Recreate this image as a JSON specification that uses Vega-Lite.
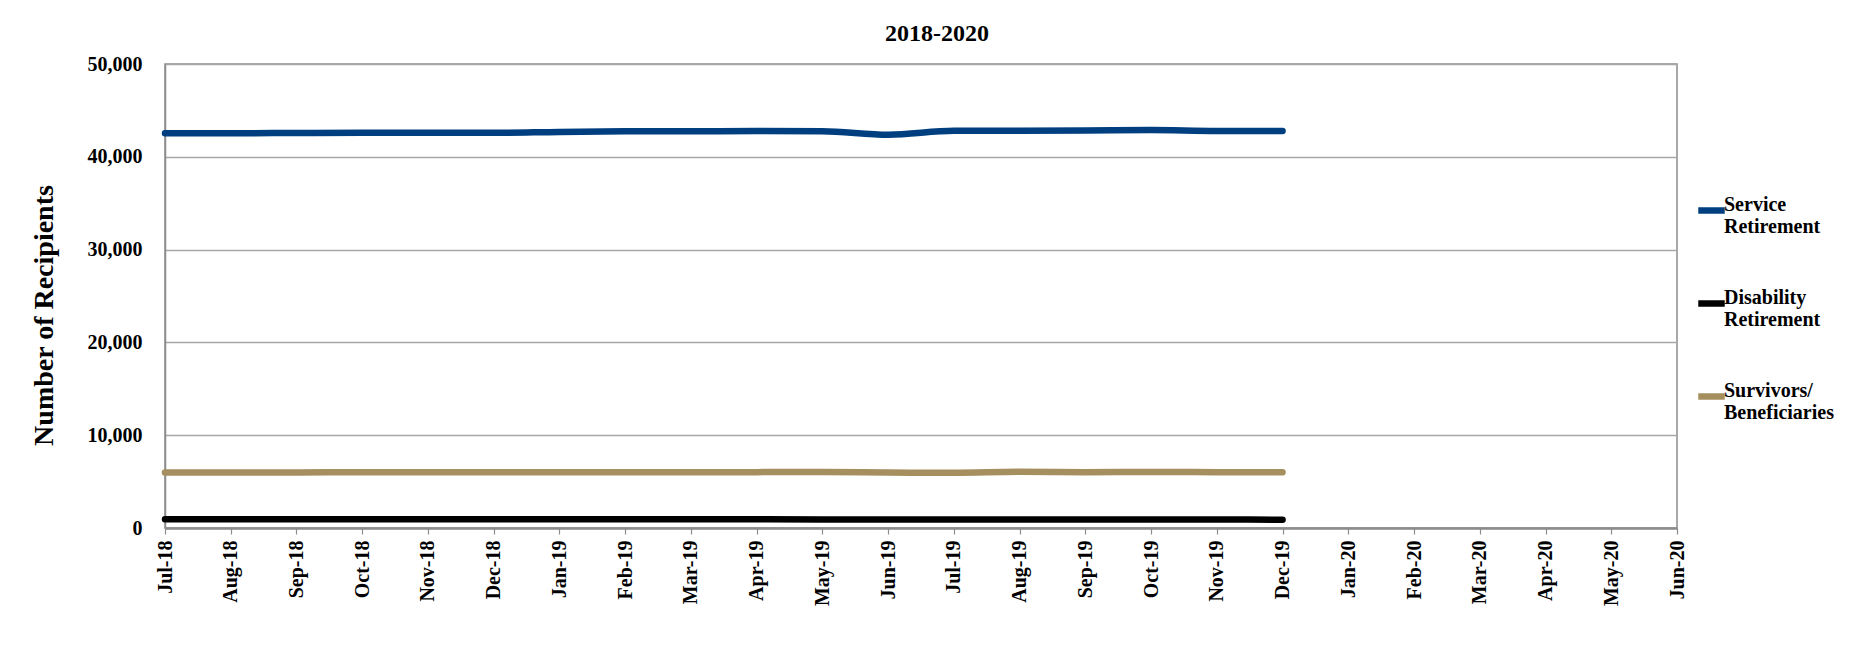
{
  "$schema": "https://vega.github.io/schema/vega-lite/v6.json",
  "width": 1512,
  "height": 464,
  "autosize": {"type": "none"},
  "padding": {"left": 165, "top": 64, "right": 194, "bottom": 121},
  "background": "#ffffff",
  "title": {
    "text": "2018-2020",
    "font": "Liberation Serif",
    "fontSize": 24,
    "fontWeight": "bold",
    "color": "#000000",
    "anchor": "middle",
    "frame": "group",
    "baseline": "alphabetic",
    "offset": 22,
    "dx": 16,
    "dy": 33
  },
  "config": {
    "view": {"stroke": "#8c8c8c", "strokeWidth": 1.5},
    "axis": {
      "labelFont": "Liberation Serif",
      "labelFontWeight": "bold",
      "labelColor": "#000000",
      "titleFont": "Liberation Serif",
      "titleColor": "#000000"
    }
  },
  "data": {
    "values": [
      {"month": "Jul-18", "series": "Service Retirement", "recipients": 42530},
      {"month": "Aug-18", "series": "Service Retirement", "recipients": 42540},
      {"month": "Sep-18", "series": "Service Retirement", "recipients": 42560},
      {"month": "Oct-18", "series": "Service Retirement", "recipients": 42580},
      {"month": "Nov-18", "series": "Service Retirement", "recipients": 42590},
      {"month": "Dec-18", "series": "Service Retirement", "recipients": 42580},
      {"month": "Jan-19", "series": "Service Retirement", "recipients": 42680},
      {"month": "Feb-19", "series": "Service Retirement", "recipients": 42740},
      {"month": "Mar-19", "series": "Service Retirement", "recipients": 42750},
      {"month": "Apr-19", "series": "Service Retirement", "recipients": 42780},
      {"month": "May-19", "series": "Service Retirement", "recipients": 42760},
      {"month": "Jun-19", "series": "Service Retirement", "recipients": 42380},
      {"month": "Jul-19", "series": "Service Retirement", "recipients": 42800},
      {"month": "Aug-19", "series": "Service Retirement", "recipients": 42810},
      {"month": "Sep-19", "series": "Service Retirement", "recipients": 42830},
      {"month": "Oct-19", "series": "Service Retirement", "recipients": 42880},
      {"month": "Nov-19", "series": "Service Retirement", "recipients": 42790},
      {"month": "Dec-19", "series": "Service Retirement", "recipients": 42790},

      {"month": "Jul-18", "series": "Disability Retirement", "recipients": 950},
      {"month": "Aug-18", "series": "Disability Retirement", "recipients": 950},
      {"month": "Sep-18", "series": "Disability Retirement", "recipients": 945},
      {"month": "Oct-18", "series": "Disability Retirement", "recipients": 945},
      {"month": "Nov-18", "series": "Disability Retirement", "recipients": 940},
      {"month": "Dec-18", "series": "Disability Retirement", "recipients": 940},
      {"month": "Jan-19", "series": "Disability Retirement", "recipients": 935},
      {"month": "Feb-19", "series": "Disability Retirement", "recipients": 935},
      {"month": "Mar-19", "series": "Disability Retirement", "recipients": 930},
      {"month": "Apr-19", "series": "Disability Retirement", "recipients": 930},
      {"month": "May-19", "series": "Disability Retirement", "recipients": 925},
      {"month": "Jun-19", "series": "Disability Retirement", "recipients": 920},
      {"month": "Jul-19", "series": "Disability Retirement", "recipients": 920},
      {"month": "Aug-19", "series": "Disability Retirement", "recipients": 915},
      {"month": "Sep-19", "series": "Disability Retirement", "recipients": 915},
      {"month": "Oct-19", "series": "Disability Retirement", "recipients": 910},
      {"month": "Nov-19", "series": "Disability Retirement", "recipients": 905},
      {"month": "Dec-19", "series": "Disability Retirement", "recipients": 900},

      {"month": "Jul-18", "series": "Survivors/ Beneficiaries", "recipients": 5980},
      {"month": "Aug-18", "series": "Survivors/ Beneficiaries", "recipients": 5990},
      {"month": "Sep-18", "series": "Survivors/ Beneficiaries", "recipients": 5990},
      {"month": "Oct-18", "series": "Survivors/ Beneficiaries", "recipients": 6000},
      {"month": "Nov-18", "series": "Survivors/ Beneficiaries", "recipients": 6000},
      {"month": "Dec-18", "series": "Survivors/ Beneficiaries", "recipients": 6000},
      {"month": "Jan-19", "series": "Survivors/ Beneficiaries", "recipients": 6000},
      {"month": "Feb-19", "series": "Survivors/ Beneficiaries", "recipients": 6010},
      {"month": "Mar-19", "series": "Survivors/ Beneficiaries", "recipients": 6010},
      {"month": "Apr-19", "series": "Survivors/ Beneficiaries", "recipients": 6020},
      {"month": "May-19", "series": "Survivors/ Beneficiaries", "recipients": 6040},
      {"month": "Jun-19", "series": "Survivors/ Beneficiaries", "recipients": 5980},
      {"month": "Jul-19", "series": "Survivors/ Beneficiaries", "recipients": 5950},
      {"month": "Aug-19", "series": "Survivors/ Beneficiaries", "recipients": 6050},
      {"month": "Sep-19", "series": "Survivors/ Beneficiaries", "recipients": 6020},
      {"month": "Oct-19", "series": "Survivors/ Beneficiaries", "recipients": 6040},
      {"month": "Nov-19", "series": "Survivors/ Beneficiaries", "recipients": 6010},
      {"month": "Dec-19", "series": "Survivors/ Beneficiaries", "recipients": 6000}
    ]
  },
  "mark": {
    "type": "line",
    "strokeWidth": 6.5,
    "strokeCap": "round",
    "strokeJoin": "round",
    "interpolate": "monotone"
  },
  "encoding": {
    "x": {
      "field": "month",
      "type": "ordinal",
      "sort": null,
      "scale": {
        "type": "point",
        "padding": 0,
        "domain": ["Jul-18", "Aug-18", "Sep-18", "Oct-18", "Nov-18", "Dec-18",
                   "Jan-19", "Feb-19", "Mar-19", "Apr-19", "May-19", "Jun-19",
                   "Jul-19", "Aug-19", "Sep-19", "Oct-19", "Nov-19", "Dec-19",
                   "Jan-20", "Feb-20", "Mar-20", "Apr-20", "May-20", "Jun-20"]
      },
      "axis": {
        "title": null,
        "labelAngle": 270,
        "labelAlign": "right",
        "labelBaseline": "middle",
        "labelFontSize": 20,
        "labelPadding": 6,
        "tickSize": 6,
        "tickColor": "#8c8c8c",
        "tickWidth": 1.2,
        "domainColor": "#8c8c8c",
        "domainWidth": 2.5,
        "grid": false
      }
    },
    "y": {
      "field": "recipients",
      "type": "quantitative",
      "scale": {"domain": [0, 50000], "nice": false},
      "axis": {
        "title": "Number of Recipients",
        "titleFontSize": 28,
        "titleFontWeight": "bold",
        "titleX": -121,
        "titleY": 251,
        "titleAngle": 270,
        "titleAlign": "center",
        "titleBaseline": "middle",
        "values": [0, 10000, 20000, 30000, 40000, 50000],
        "format": ",.0f",
        "labelFontSize": 20,
        "labelPadding": 23,
        "ticks": false,
        "domainColor": "#8c8c8c",
        "domainWidth": 1.5,
        "grid": true,
        "gridColor": "#a6a6a6",
        "gridWidth": 1.5
      }
    },
    "color": {
      "field": "series",
      "type": "nominal",
      "scale": {
        "domain": ["Service Retirement", "Disability Retirement", "Survivors/ Beneficiaries"],
        "range": ["#003f7f", "#000000", "#a68f5f"]
      },
      "legend": {
        "title": null,
        "orient": "none",
        "legendX": 1530,
        "legendY": 130,
        "direction": "vertical",
        "symbolType": "stroke",
        "symbolSize": 700,
        "symbolStrokeWidth": 6.5,
        "labelExpr": "split(datum.label, ' ')",
        "labelFont": "Liberation Serif",
        "labelFontSize": 20,
        "labelFontWeight": "bold",
        "labelColor": "#000000",
        "labelBaseline": "alphabetic",
        "labelLineHeight": 24,
        "labelOffset": -4,
        "labelLimit": 300,
        "rowPadding": 50
      }
    }
  }
}
